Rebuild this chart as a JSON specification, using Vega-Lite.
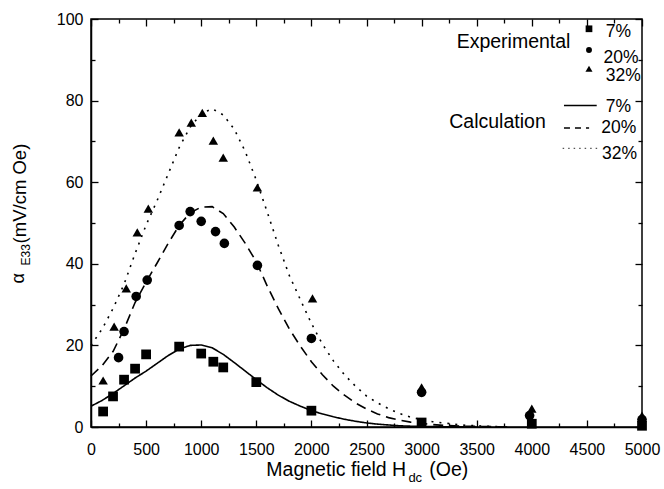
{
  "$schema": "https://vega.github.io/schema/vega-lite/v6.json",
  "width": 551,
  "height": 408,
  "autosize": {"type": "none"},
  "padding": {"left": 91, "top": 19, "right": 22, "bottom": 62},
  "background": "white",
  "data": {"values": [{}]},
  "config": {
    "font": "Liberation Sans",
    "view": {"stroke": "black", "strokeWidth": 1.5},
    "axis": {"grid": false, "labelColor": "black", "tickColor": "black", "domainColor": "black", "labelFont": "Liberation Sans"}
  },
  "datasets": {
    "calc": [
      {"curve": "7%", "H": 0, "v": 5.1}, {"curve": "7%", "H": 100, "v": 6.5}, {"curve": "7%", "H": 200, "v": 8.2}, {"curve": "7%", "H": 300, "v": 10.1},
      {"curve": "7%", "H": 400, "v": 12.0}, {"curve": "7%", "H": 500, "v": 13.7}, {"curve": "7%", "H": 600, "v": 15.6}, {"curve": "7%", "H": 700, "v": 17.5},
      {"curve": "7%", "H": 800, "v": 19.1}, {"curve": "7%", "H": 900, "v": 20.0}, {"curve": "7%", "H": 1000, "v": 20.1}, {"curve": "7%", "H": 1100, "v": 19.4},
      {"curve": "7%", "H": 1200, "v": 17.8}, {"curve": "7%", "H": 1300, "v": 15.8}, {"curve": "7%", "H": 1400, "v": 13.7}, {"curve": "7%", "H": 1500, "v": 11.6},
      {"curve": "7%", "H": 1600, "v": 9.6}, {"curve": "7%", "H": 1700, "v": 7.8}, {"curve": "7%", "H": 1800, "v": 6.3}, {"curve": "7%", "H": 1900, "v": 5.1},
      {"curve": "7%", "H": 2000, "v": 4.0}, {"curve": "7%", "H": 2100, "v": 3.2}, {"curve": "7%", "H": 2200, "v": 2.5}, {"curve": "7%", "H": 2300, "v": 1.9},
      {"curve": "7%", "H": 2400, "v": 1.4}, {"curve": "7%", "H": 2500, "v": 1.0}, {"curve": "7%", "H": 2600, "v": 0.7}, {"curve": "7%", "H": 2700, "v": 0.5},
      {"curve": "7%", "H": 2800, "v": 0.3}, {"curve": "7%", "H": 2900, "v": 0.2}, {"curve": "7%", "H": 3000, "v": 0.15}, {"curve": "7%", "H": 3200, "v": 0.05},
      {"curve": "7%", "H": 3500, "v": 0},
      {"curve": "20%", "H": 0, "v": 12.5}, {"curve": "20%", "H": 100, "v": 15.0}, {"curve": "20%", "H": 200, "v": 18.5}, {"curve": "20%", "H": 300, "v": 24.0},
      {"curve": "20%", "H": 400, "v": 30.5}, {"curve": "20%", "H": 500, "v": 35.5}, {"curve": "20%", "H": 600, "v": 40.2}, {"curve": "20%", "H": 700, "v": 45.0},
      {"curve": "20%", "H": 800, "v": 49.4}, {"curve": "20%", "H": 900, "v": 52.5}, {"curve": "20%", "H": 1000, "v": 53.9}, {"curve": "20%", "H": 1100, "v": 54.0},
      {"curve": "20%", "H": 1200, "v": 52.3}, {"curve": "20%", "H": 1300, "v": 49.0}, {"curve": "20%", "H": 1400, "v": 45.0}, {"curve": "20%", "H": 1500, "v": 40.5},
      {"curve": "20%", "H": 1600, "v": 34.5}, {"curve": "20%", "H": 1700, "v": 29.0}, {"curve": "20%", "H": 1800, "v": 24.0}, {"curve": "20%", "H": 1900, "v": 19.8},
      {"curve": "20%", "H": 2000, "v": 16.0}, {"curve": "20%", "H": 2100, "v": 12.8}, {"curve": "20%", "H": 2200, "v": 10.0}, {"curve": "20%", "H": 2300, "v": 7.8},
      {"curve": "20%", "H": 2400, "v": 5.9}, {"curve": "20%", "H": 2500, "v": 4.4}, {"curve": "20%", "H": 2600, "v": 3.2}, {"curve": "20%", "H": 2700, "v": 2.3},
      {"curve": "20%", "H": 2800, "v": 1.7}, {"curve": "20%", "H": 2900, "v": 1.2}, {"curve": "20%", "H": 3000, "v": 0.9}, {"curve": "20%", "H": 3100, "v": 0.6},
      {"curve": "20%", "H": 3200, "v": 0.4}, {"curve": "20%", "H": 3400, "v": 0.2}, {"curve": "20%", "H": 3600, "v": 0.1}, {"curve": "20%", "H": 3800, "v": 0},
      {"curve": "32%", "H": 0, "v": 20.0}, {"curve": "32%", "H": 100, "v": 24.0}, {"curve": "32%", "H": 200, "v": 29.0}, {"curve": "32%", "H": 300, "v": 35.0},
      {"curve": "32%", "H": 400, "v": 42.5}, {"curve": "32%", "H": 500, "v": 49.5}, {"curve": "32%", "H": 600, "v": 55.5}, {"curve": "32%", "H": 700, "v": 62.0},
      {"curve": "32%", "H": 800, "v": 68.5}, {"curve": "32%", "H": 900, "v": 73.5}, {"curve": "32%", "H": 1000, "v": 76.8}, {"curve": "32%", "H": 1100, "v": 78.0},
      {"curve": "32%", "H": 1200, "v": 76.5}, {"curve": "32%", "H": 1300, "v": 73.0}, {"curve": "32%", "H": 1400, "v": 67.5}, {"curve": "32%", "H": 1500, "v": 60.5},
      {"curve": "32%", "H": 1600, "v": 52.6}, {"curve": "32%", "H": 1700, "v": 44.5}, {"curve": "32%", "H": 1800, "v": 37.1}, {"curve": "32%", "H": 1900, "v": 31.2},
      {"curve": "32%", "H": 2000, "v": 25.4}, {"curve": "32%", "H": 2100, "v": 20.3}, {"curve": "32%", "H": 2200, "v": 16.2}, {"curve": "32%", "H": 2300, "v": 12.8},
      {"curve": "32%", "H": 2400, "v": 10.0}, {"curve": "32%", "H": 2500, "v": 7.6}, {"curve": "32%", "H": 2600, "v": 5.9}, {"curve": "32%", "H": 2700, "v": 4.5},
      {"curve": "32%", "H": 2800, "v": 3.3}, {"curve": "32%", "H": 2900, "v": 2.4}, {"curve": "32%", "H": 3000, "v": 1.8}, {"curve": "32%", "H": 3100, "v": 1.3},
      {"curve": "32%", "H": 3200, "v": 1.0}, {"curve": "32%", "H": 3400, "v": 0.4}, {"curve": "32%", "H": 3600, "v": 0.2}, {"curve": "32%", "H": 3800, "v": 0}
    ],
    "exp": [
      {"series": "7%", "H": 110, "v": 3.8}, {"series": "7%", "H": 200, "v": 7.5}, {"series": "7%", "H": 300, "v": 11.6}, {"series": "7%", "H": 400, "v": 14.3},
      {"series": "7%", "H": 500, "v": 17.8}, {"series": "7%", "H": 800, "v": 19.7}, {"series": "7%", "H": 1000, "v": 18.0}, {"series": "7%", "H": 1110, "v": 16.0},
      {"series": "7%", "H": 1200, "v": 14.6}, {"series": "7%", "H": 1500, "v": 11.0}, {"series": "7%", "H": 2000, "v": 4.0}, {"series": "7%", "H": 3000, "v": 1.1},
      {"series": "7%", "H": 4000, "v": 0.8}, {"series": "7%", "H": 5000, "v": 0.3},
      {"series": "20%", "H": 250, "v": 17.0}, {"series": "20%", "H": 300, "v": 23.4}, {"series": "20%", "H": 410, "v": 32.0}, {"series": "20%", "H": 510, "v": 36.0},
      {"series": "20%", "H": 800, "v": 49.4}, {"series": "20%", "H": 900, "v": 52.8}, {"series": "20%", "H": 1000, "v": 50.4}, {"series": "20%", "H": 1130, "v": 47.9},
      {"series": "20%", "H": 1210, "v": 45.0}, {"series": "20%", "H": 1510, "v": 39.6}, {"series": "20%", "H": 2000, "v": 21.7}, {"series": "20%", "H": 3000, "v": 8.5},
      {"series": "20%", "H": 3980, "v": 2.8}, {"series": "20%", "H": 5000, "v": 1.8},
      {"series": "32%", "H": 110, "v": 11.4}, {"series": "32%", "H": 210, "v": 24.6}, {"series": "32%", "H": 320, "v": 34.0}, {"series": "32%", "H": 420, "v": 47.7},
      {"series": "32%", "H": 520, "v": 53.5}, {"series": "32%", "H": 800, "v": 72.2}, {"series": "32%", "H": 910, "v": 74.6}, {"series": "32%", "H": 1010, "v": 77.0},
      {"series": "32%", "H": 1110, "v": 70.2}, {"series": "32%", "H": 1200, "v": 66.0}, {"series": "32%", "H": 1510, "v": 58.7}, {"series": "32%", "H": 2010, "v": 31.5},
      {"series": "32%", "H": 3000, "v": 9.7}, {"series": "32%", "H": 4000, "v": 4.5}, {"series": "32%", "H": 5000, "v": 2.8}
    ]
  },
  "resolve": {"axis": {"x": "independent", "y": "independent"}},
  "layer": [
    {
      "data": {"name": "calc"},
      "mark": {"type": "line", "color": "black", "strokeWidth": 1.6},
      "encoding": {
        "x": {"field": "H", "type": "quantitative", "scale": {"domain": [0, 5000], "nice": false},
          "axis": {"orient": "bottom", "title": null, "values": [0,250,500,750,1000,1250,1500,1750,2000,2250,2500,2750,3000,3250,3500,3750,4000,4250,4500,4750,5000],
            "labelExpr": "datum.value % 500 === 0 ? format(datum.value, 'd') : ''", "labelFlush": false, "labelOverlap": false,
            "tickSize": {"condition": {"test": "datum.value % 500 === 0", "value": -7}, "value": -4},
            "tickWidth": 1.3, "domainWidth": 1.5, "labelFontSize": 16, "labelPadding": 21}},
        "y": {"field": "v", "type": "quantitative", "scale": {"domain": [0, 100], "nice": false},
          "axis": {"orient": "left", "title": null, "values": [0,10,20,30,40,50,60,70,80,90,100],
            "labelExpr": "datum.value % 20 === 0 ? format(datum.value, 'd') : ''", "labelOverlap": false, "labelFlush": false,
            "tickSize": {"condition": {"test": "datum.value % 20 === 0", "value": -7}, "value": -4},
            "tickWidth": 1.3, "domainWidth": 1.5, "labelFontSize": 16, "labelPadding": 15}},
        "strokeDash": {"field": "curve", "type": "nominal", "scale": {"domain": ["7%", "20%", "32%"], "range": [[1, 0], [10, 6], [2, 6]]}, "legend": null},
        "detail": {"field": "curve"}
      }
    },
    {
      "data": {"name": "exp"},
      "mark": {"type": "point", "filled": true, "color": "black", "opacity": 1},
      "encoding": {
        "x": {"field": "H", "type": "quantitative", "scale": {"domain": [0, 5000], "nice": false},
          "axis": {"orient": "top", "title": null, "labels": false, "domain": false, "values": [0,250,500,750,1000,1250,1500,1750,2000,2250,2500,2750,3000,3250,3500,3750,4000,4250,4500,4750,5000],
            "tickSize": {"condition": {"test": "datum.value % 500 === 0", "value": -7}, "value": -4}, "tickWidth": 1.3}},
        "y": {"field": "v", "type": "quantitative", "scale": {"domain": [0, 100], "nice": false},
          "axis": {"orient": "right", "title": null, "labels": false, "domain": false, "values": [0,10,20,30,40,50,60,70,80,90,100],
            "tickSize": {"condition": {"test": "datum.value % 20 === 0", "value": -7}, "value": -4}, "tickWidth": 1.3}},
        "shape": {"field": "series", "type": "nominal", "scale": {"domain": ["7%", "20%", "32%"], "range": ["square", "circle", "triangle-up"]}, "legend": null},
        "size": {"field": "series", "type": "nominal", "scale": {"domain": ["7%", "20%", "32%"], "range": [95, 90, 140]}, "legend": null}
      }
    },
    {
      "mark": {"type": "point", "filled": true, "color": "black", "opacity": 1, "shape": "square", "size": 45},
      "encoding": {"x": {"datum": 4519, "axis": null}, "y": {"datum": 97.6, "axis": null}}
    },
    {
      "mark": {"type": "point", "filled": true, "color": "black", "opacity": 1, "shape": "circle", "size": 35},
      "encoding": {"x": {"datum": 4519, "axis": null}, "y": {"datum": 92.4, "axis": null}}
    },
    {
      "mark": {"type": "point", "filled": true, "color": "black", "opacity": 1, "shape": "triangle-up", "size": 50},
      "encoding": {"x": {"datum": 4519, "axis": null}, "y": {"datum": 87.8, "axis": null}}
    },
    {
      "mark": {"type": "rule", "color": "black", "strokeWidth": 1.6},
      "encoding": {"x": {"datum": 4292, "axis": null}, "x2": {"datum": 4589}, "y": {"datum": 78.8, "axis": null}}
    },
    {
      "mark": {"type": "rule", "color": "black", "strokeWidth": 1.6, "strokeDash": [6, 5]},
      "encoding": {"x": {"datum": 4292, "axis": null}, "x2": {"datum": 4520}, "y": {"datum": 73.3, "axis": null}}
    },
    {
      "mark": {"type": "rule", "color": "#555555", "strokeWidth": 1.3, "strokeDash": [1.5, 4]},
      "encoding": {"x": {"datum": 4280, "axis": null}, "x2": {"datum": 4620}, "y": {"datum": 68.3, "axis": null}}
    },
    {
      "mark": {"type": "text", "text": "Experimental", "fontSize": 19.5, "align": "left", "baseline": "middle", "color": "black"},
      "encoding": {"x": {"datum": 3318, "axis": null}, "y": {"datum": 94.3, "axis": null}}
    },
    {
      "mark": {"type": "text", "text": "Calculation", "fontSize": 19.5, "align": "left", "baseline": "middle", "color": "black"},
      "encoding": {"x": {"datum": 3251, "axis": null}, "y": {"datum": 74.7, "axis": null}}
    },
    {
      "mark": {"type": "text", "text": "7%", "fontSize": 17.5, "align": "left", "baseline": "middle", "color": "black"},
      "encoding": {"x": {"datum": 4671, "axis": null}, "y": {"datum": 96.8, "axis": null}}
    },
    {
      "mark": {"type": "text", "text": "20%", "fontSize": 17.5, "align": "left", "baseline": "middle", "color": "black"},
      "encoding": {"x": {"datum": 4650, "axis": null}, "y": {"datum": 90.5, "axis": null}}
    },
    {
      "mark": {"type": "text", "text": "32%", "fontSize": 17.5, "align": "left", "baseline": "middle", "color": "black"},
      "encoding": {"x": {"datum": 4671, "axis": null}, "y": {"datum": 86.0, "axis": null}}
    },
    {
      "mark": {"type": "text", "text": "7%", "fontSize": 17.5, "align": "left", "baseline": "middle", "color": "black"},
      "encoding": {"x": {"datum": 4671, "axis": null}, "y": {"datum": 78.5, "axis": null}}
    },
    {
      "mark": {"type": "text", "text": "20%", "fontSize": 17.5, "align": "left", "baseline": "middle", "color": "black"},
      "encoding": {"x": {"datum": 4630, "axis": null}, "y": {"datum": 73.4, "axis": null}}
    },
    {
      "mark": {"type": "text", "text": "32%", "fontSize": 17.5, "align": "left", "baseline": "middle", "color": "black"},
      "encoding": {"x": {"datum": 4637, "axis": null}, "y": {"datum": 67.0, "axis": null}}
    },
    {
      "mark": {"type": "text", "text": "Magnetic field H", "fontSize": 19.5, "align": "right", "baseline": "alphabetic", "color": "black"},
      "encoding": {"x": {"datum": 2860, "axis": null}, "y": {"datum": -11.9, "axis": null}}
    },
    {
      "mark": {"type": "text", "text": "dc", "fontSize": 13, "align": "left", "baseline": "alphabetic", "color": "black"},
      "encoding": {"x": {"datum": 2880, "axis": null}, "y": {"datum": -13.5, "axis": null}}
    },
    {
      "mark": {"type": "text", "text": "(Oe)", "fontSize": 19.5, "align": "left", "baseline": "alphabetic", "color": "black"},
      "encoding": {"x": {"datum": 3070, "axis": null}, "y": {"datum": -11.9, "axis": null}}
    },
    {
      "mark": {"type": "text", "text": "α", "fontSize": 18, "angle": 270, "align": "left", "baseline": "alphabetic", "color": "black"},
      "encoding": {"x": {"datum": -608, "axis": null}, "y": {"datum": 35.2, "axis": null}}
    },
    {
      "mark": {"type": "text", "text": "E33", "fontSize": 12, "angle": 270, "align": "left", "baseline": "alphabetic", "color": "black"},
      "encoding": {"x": {"datum": -553, "axis": null}, "y": {"datum": 39.6, "axis": null}}
    },
    {
      "mark": {"type": "text", "text": "(mV/cm Oe)", "fontSize": 18.5, "angle": 270, "align": "left", "baseline": "alphabetic", "color": "black"},
      "encoding": {"x": {"datum": -590, "axis": null}, "y": {"datum": 45.0, "axis": null}}
    }
  ]
}
